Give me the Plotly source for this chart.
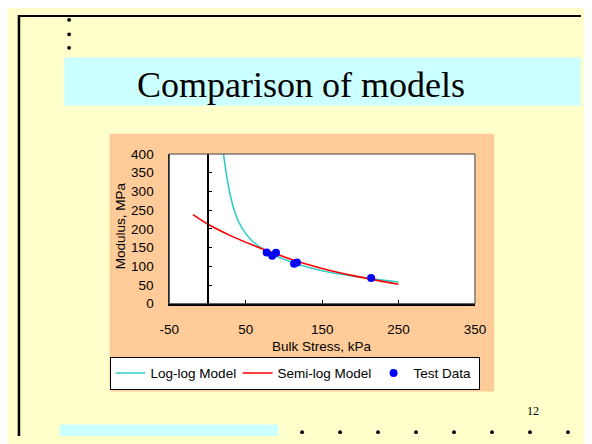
import plotly.graph_objects as go

# ---- data ----
test_x = [77.4, 84.6, 89.6, 113.2, 117.0, 214.1]
test_y = [136.8, 128.0, 136.0, 106.6, 110.0, 68.8]

loglog_x = [20, 23.5, 26.5, 30, 34, 40, 49, 59, 72, 89, 110, 120, 150, 192, 250]
loglog_y = [415, 362, 324, 288, 256, 222, 190, 167, 147, 128, 111, 104, 88, 73, 58]

semilog_x = [-19, 0, 30, 60, 90, 110, 150, 190, 250]
semilog_y = [238, 213, 182, 156, 133, 118, 94, 75, 52]

x_ticks = [-50, 50, 150, 250, 350]
y_ticks = [0, 50, 100, 150, 200, 250, 300, 350, 400]
y_inner_ticks = [50, 100, 150, 200, 250, 300, 350]

series_names = ["Log-log Model", "Semi-log Model", "Test Data"]
title_text = "Comparison of models"
x_title = "Bulk Stress, kPa"
y_title = "Modulus, MPa"
page_no = "12"

OFF = 8            # page body margin: the figure starts 8px into the window
W, H = 592 - OFF, 444 - OFF

def px(v):
    return (v - OFF) / W

def py(v):
    return 1 - (v - OFF) / H

X_RANGE = [-50, 350]
Y_RANGE = [0, 400]
xd = [px(165), px(482)]
yd = [py(307), py(152)]
zero_pos = xd[0] + (0 - X_RANGE[0]) / (X_RANGE[1] - X_RANGE[0]) * (xd[1] - xd[0])

SANS = "Liberation Sans, Arial, sans-serif"
SERIF = "Liberation Serif, Times New Roman, serif"
FS = 13.5

fig = go.Figure()
fig.add_trace(go.Scatter(x=loglog_x, y=loglog_y, mode="lines", name=series_names[0],
                         line=dict(color="#33CCCC", width=1.6, shape="spline"),
                         legendwidth=82))
fig.add_trace(go.Scatter(x=semilog_x, y=semilog_y, mode="lines", name=series_names[1],
                         line=dict(color="#FF0000", width=1.6, shape="spline"),
                         legendwidth=91))
fig.add_trace(go.Scatter(x=test_x, y=test_y, mode="markers", name=series_names[2],
                         marker=dict(color="#0000FF", size=8),
                         legendwidth=60))
# helper trace so the x=0 axis (yaxis2) is drawn
fig.add_trace(go.Scatter(x=test_x, y=test_y, mode="markers", yaxis="y2",
                         marker=dict(opacity=0), showlegend=False, hoverinfo="skip"))

shapes = [
    dict(type="rect", xref="paper", yref="paper", x0=px(103), x1=px(502), y0=py(398), y1=py(131),
         fillcolor="#FFCC99", line=dict(width=0), layer="below"),
    dict(type="rect", xref="x domain", yref="y domain", x0=0, x1=1, y0=0, y1=1,
         fillcolor="#FFFFFF", line=dict(width=0), layer="below"),
    dict(type="rect", xref="paper", yref="paper", x0=px(56), x1=1, y0=py(102), y1=py(52),
         fillcolor="#CCFFFF", line=dict(width=0), layer="below"),
    dict(type="rect", xref="paper", yref="paper", x0=px(51), x1=px(278), y0=0, y1=py(432),
         fillcolor="#CCFFFF", line=dict(width=0), layer="below"),
    dict(type="line", xref="paper", yref="paper", x0=px(9), x1=px(9), y0=0, y1=1,
         line=dict(color="black", width=2.5)),
    dict(type="line", xref="paper", yref="paper", x0=px(9), x1=1, y0=py(9), y1=py(9),
         line=dict(color="black", width=2)),
    dict(type="rect", xref="x domain", yref="y domain", x0=0, x1=1, y0=0, y1=1,
         line=dict(color="#404040", width=1), layer="above"),
]
# bullet dots (decoration)
for by in [13, 28, 42]:
    shapes.append(dict(type="circle", xref="paper", yref="paper",
                       x0=px(59), x1=px(63), y0=py(by + 2), y1=py(by - 2),
                       fillcolor="black", line=dict(width=0)))
for k in range(8):
    bx = 302.7 + 39.4 * k
    shapes.append(dict(type="circle", xref="paper", yref="paper",
                       x0=px(bx - 2), x1=px(bx + 2), y0=py(442), y1=py(438),
                       fillcolor="black", line=dict(width=0)))

annotations = [
    dict(text=title_text, xref="paper", yref="paper", x=px(301.5), y=py(80),
         xanchor="center", yanchor="middle", showarrow=False,
         font=dict(family=SERIF, size=36, color="black")),
    dict(text=page_no, xref="paper", yref="paper", x=px(542), y=py(418),
         xanchor="center", yanchor="middle", showarrow=False,
         font=dict(family=SERIF, size=12, color="black")),
    dict(text=x_title, xref="paper", yref="paper", x=(xd[0] + xd[1]) / 2, y=py(351),
         xanchor="center", yanchor="middle", showarrow=False,
         font=dict(family=SANS, size=FS, color="black")),
    dict(text=y_title, xref="paper", yref="paper", x=px(114.5), y=py(226),
         xanchor="center", yanchor="middle", showarrow=False, textangle=-90,
         font=dict(family=SANS, size=FS, color="black")),
]

fig.update_layout(
    width=W, height=H,
    margin=dict(l=0, r=0, t=0, b=0),
    paper_bgcolor="#FFFFCC",
    plot_bgcolor="#FFFFFF",
    font=dict(family=SANS, size=FS, color="black"),
    shapes=shapes,
    annotations=annotations,
    xaxis=dict(domain=xd, range=X_RANGE, tickvals=x_ticks, ticktext=[str(v) for v in x_ticks],
               ticks="inside", ticklen=4, tickcolor="black", tickwidth=1,
               showline=True, linecolor="black", linewidth=1.5, mirror=False,
               showgrid=False, zeroline=False, ticklabelstandoff=12,
               tickfont=dict(family=SANS, size=FS, color="black"), fixedrange=True),
    yaxis=dict(domain=yd, range=Y_RANGE, tickvals=y_ticks, ticktext=[str(v) for v in y_ticks],
               ticks="", showline=True, linecolor="#202020", linewidth=1, mirror=False,
               showgrid=False, zeroline=False, ticklabelstandoff=12,
               tickfont=dict(family=SANS, size=FS, color="black"), fixedrange=True),
    yaxis2=dict(overlaying="y", anchor="free", position=zero_pos, side="left",
                range=Y_RANGE, tickvals=y_inner_ticks, showticklabels=False,
                ticks="inside", ticklen=4, tickcolor="black", tickwidth=1,
                showline=True, linecolor="black", linewidth=1.5,
                showgrid=False, zeroline=False, fixedrange=True),
    legend=dict(orientation="h", x=px(103), y=py(379), xanchor="left", yanchor="middle",
                bgcolor="#FFFFFF", bordercolor="black", borderwidth=1,
                font=dict(family=SANS, size=FS, color="black"),
                itemwidth=30, tracegroupgap=0),
    showlegend=True,
)

fig.write_html("out.html")
